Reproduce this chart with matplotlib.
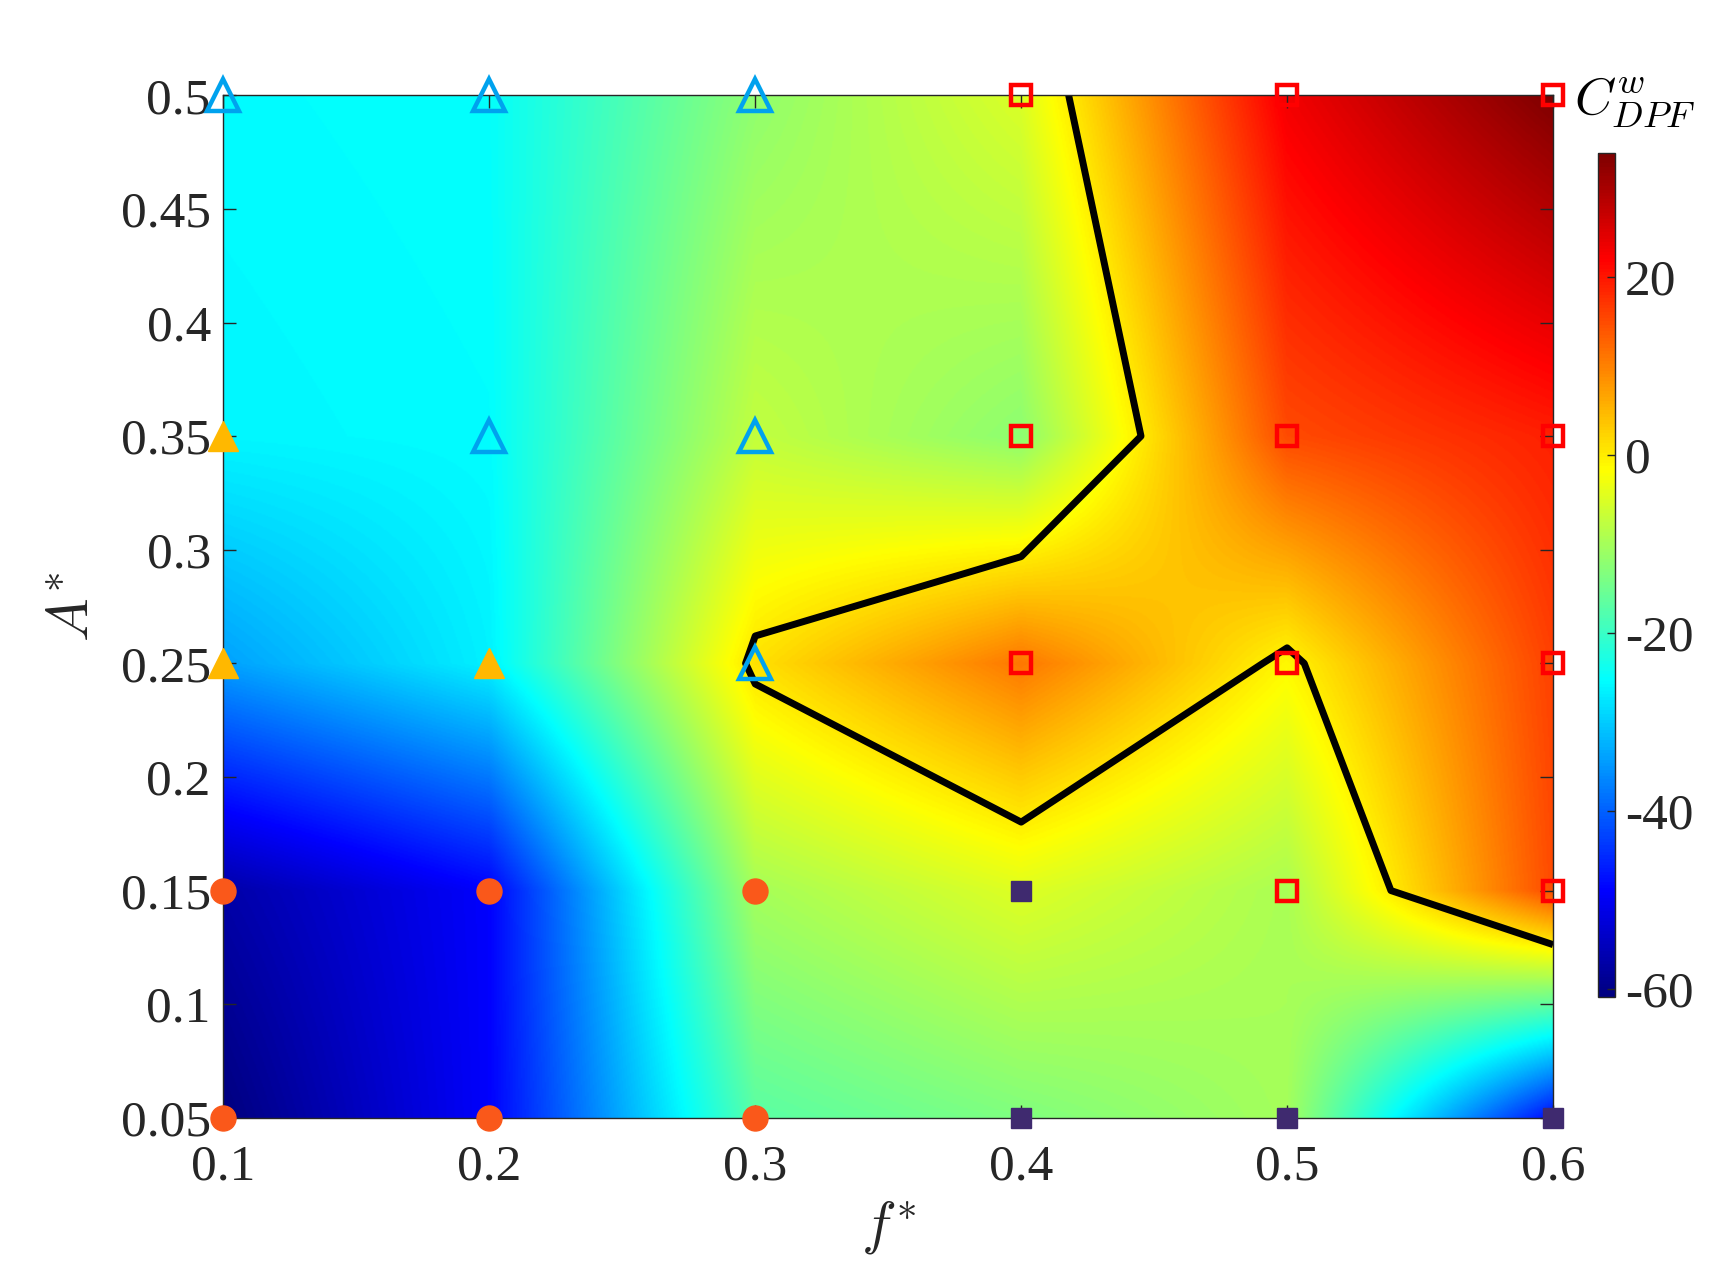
import numpy as np
import matplotlib
matplotlib.use('Agg')
import matplotlib.pyplot as plt
from matplotlib.colors import ListedColormap

plt.rcParams['font.family'] = ['Liberation Serif', 'DejaVu Serif']
plt.rcParams['mathtext.fontset'] = 'cm'
plt.rcParams['axes.unicode_minus'] = False

# grid of the cases
f_vals = [0.1, 0.2, 0.3, 0.4, 0.5, 0.6]
A_vals = [0.05, 0.15, 0.25, 0.35, 0.5]

# C^w_DPF, one row per A*
C_A005 = [-60.9, -49.0, -17.0, -13.5, -10.0, -48.0]
C_A015 = [-57.0, -49.0, -10.0, -4.7, -9.6, 15.0]
C_A025 = [-34.0, -26.5, 1.0, 10.9, -1.1, 16.0]
C_A035 = [-26.0, -25.4, -7.3, -12.3, 15.0, 19.0]
C_A050 = [-25.5, -25.0, -12.0, -5.0, 23.0, 33.9]

# regime markers (f*, A*)
open_tri_f = [0.1, 0.2, 0.3, 0.2, 0.3, 0.3]
open_tri_A = [0.5, 0.5, 0.5, 0.35, 0.35, 0.25]
full_tri_f = [0.1, 0.1, 0.2]
full_tri_A = [0.35, 0.25, 0.25]
circ_f = [0.1, 0.2, 0.3, 0.1, 0.2, 0.3]
circ_A = [0.15, 0.15, 0.15, 0.05, 0.05, 0.05]
full_sq_f = [0.4, 0.4, 0.5, 0.6]
full_sq_A = [0.15, 0.05, 0.05, 0.05]
open_sq_f = [0.4, 0.5, 0.6, 0.4, 0.5, 0.6, 0.4, 0.5, 0.6, 0.5, 0.6]
open_sq_A = [0.5, 0.5, 0.5, 0.35, 0.35, 0.35, 0.25, 0.25, 0.25, 0.15, 0.15]

C = np.array([C_A005, C_A015, C_A025, C_A035, C_A050])
F, A = np.meshgrid(f_vals, A_vals)

# matlab style jet
t = np.linspace(0, 1, 256)
jet_m = np.clip(np.stack([1.5 - np.abs(4 * t - 3),
                          1.5 - np.abs(4 * t - 2),
                          1.5 - np.abs(4 * t - 1)], axis=1), 0, 1)
cmap = ListedColormap(jet_m)

# interp shading: bilinear between the grid nodes, on a fine grid
fi = np.linspace(0.1, 0.6, 1000)
ai = np.linspace(0.05, 0.5, 800)
rows = np.array([np.interp(fi, f_vals, C[j]) for j in range(len(A_vals))])
CI = np.array([np.interp(ai, A_vals, rows[:, k]) for k in range(len(fi))]).T

grey = '#262626'
fig = plt.figure(figsize=(17.18, 12.63), dpi=100)
ax = fig.add_axes([0.130, 0.115, 0.774, 0.8095])

im = ax.imshow(CI, origin='lower', extent=[0.1, 0.6, 0.05, 0.5], aspect='auto',
               cmap=cmap, vmin=C.min(), vmax=C.max(), interpolation='bilinear')
ax.contour(F, A, C, levels=[0], colors='k', linewidths=5)

ax.plot(open_tri_f, open_tri_A, '^', ms=23, mfc='none', mec='#00A2EE', mew=3.2,
        ls='none', clip_on=False, zorder=5)
ax.plot(full_tri_f, full_tri_A, '^', ms=21, color='#FFB800', ls='none',
        clip_on=False, zorder=5)
ax.plot(circ_f, circ_A, 'o', ms=18, color='#FA581A', ls='none',
        clip_on=False, zorder=5)
ax.plot(full_sq_f, full_sq_A, 's', ms=14, color='#3F2A6F', ls='none',
        clip_on=False, zorder=5)
ax.plot(open_sq_f, open_sq_A, 's', ms=14.5, mfc='none', mec='#FF0000', mew=3.2,
        ls='none', clip_on=False, zorder=5)

ax.set_xlim(0.1, 0.6)
ax.set_ylim(0.05, 0.5)
ax.set_xticks(f_vals)
ax.set_xticklabels(['%g' % v for v in f_vals])
yt = [round(0.05 * k, 2) for k in range(1, 11)]
ax.set_yticks(yt)
ax.set_yticklabels(['%g' % v for v in yt])
ax.tick_params(direction='in', length=9.4, width=1, top=True, right=True,
               labelsize=37, colors=grey)
ax.tick_params(axis='x', pad=19)
ax.tick_params(axis='y', pad=9)
for s in ax.spines.values():
    s.set_color(grey)
    s.set_linewidth(1)

ax.set_xlabel(r'$f^{*}$', fontsize=42, color=grey)
ax.xaxis.set_label_coords(0.5, -0.107)
ax.xaxis.label.set_va('center')
ax.set_ylabel(r'$A^{*}$', fontsize=42, color=grey)
ax.yaxis.set_label_coords(-0.112, 0.5)
ax.yaxis.label.set_va('center')

cax = fig.add_axes([0.930, 0.2106, 0.0102, 0.668])
cb = fig.colorbar(im, cax=cax, ticks=[-60, -40, -20, 0, 20])
cb.ax.tick_params(direction='in', length=6, width=1, labelsize=37,
                  colors=grey, pad=7)
cb.outline.set_edgecolor(grey)
cb.outline.set_linewidth(1)

fig.text(1574 / 1718, 1 - 115 / 1263, r'$C^{w}_{DPF}$', fontsize=38,
         ha='left', va='baseline', color='k')

fig.savefig('out.png', dpi=100)
